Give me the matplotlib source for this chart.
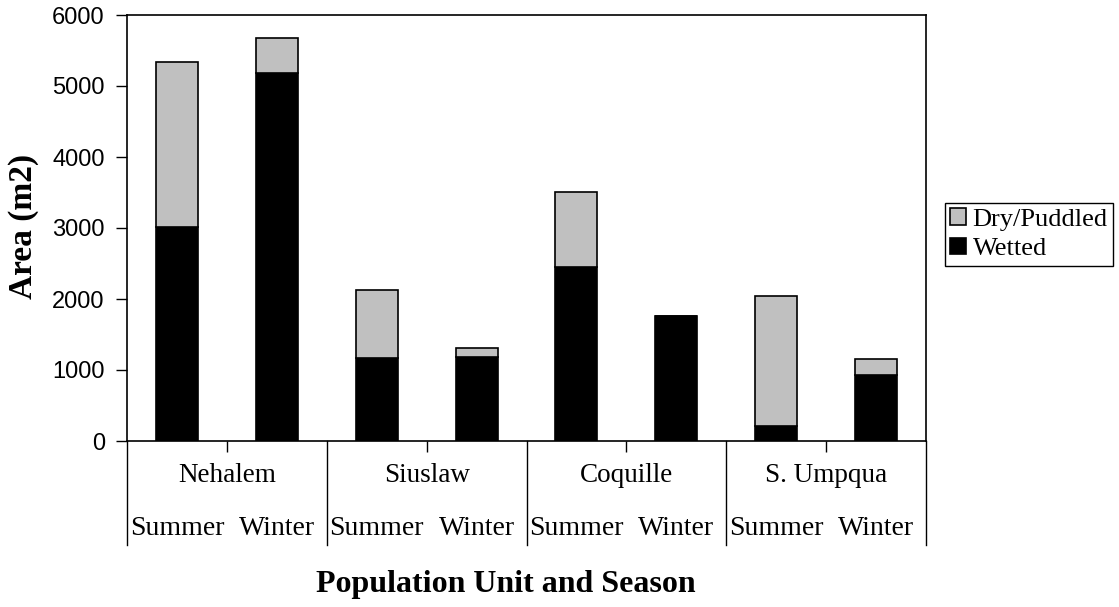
import numpy as np
import matplotlib
matplotlib.use('Agg')
import matplotlib.pyplot as plt
import matplotlib.transforms as mtransforms

# values (m2)
units = ['Nehalem', 'Siuslaw', 'Coquille', 'S. Umpqua']
seasons = ['Summer', 'Winter']
wetted = [3010, 5190, 1170, 1180, 2450, 1760, 210, 930]
total = [5340, 5680, 2120, 1310, 3510, 1760, 2040, 1155]
dry = [t - w for t, w in zip(total, wetted)]

serif = 'Liberation Serif'
sans = 'Liberation Sans'

fig = plt.figure(figsize=(11.19, 6.07), dpi=100)
ax = fig.add_axes([127 / 1119, 1 - 441 / 607, 799 / 1119, 426 / 607])

x = np.arange(len(wetted))
b1 = ax.bar(x, wetted, width=0.42, color='black', edgecolor='black', linewidth=1.2)
b2 = ax.bar(x, dry, width=0.42, bottom=wetted, color='#C0C0C0', edgecolor='black', linewidth=1.2)

ax.set_xlim(-0.5, len(x) - 0.5)
ax.set_ylim(0, 6000)
ax.set_yticks(range(0, 6001, 1000))
ax.tick_params(axis='y', direction='out', length=8, width=1, labelsize=17, pad=8)
for lab in ax.get_yticklabels():
    lab.set_fontfamily(sans)

# small ticks between summer / winter
ax.set_xticks(np.arange(0.5, len(x), 2))
ax.set_xticklabels([])
ax.tick_params(axis='x', direction='out', length=8, width=1)

for s in ax.spines.values():
    s.set_linewidth(1.2)

# category axis below the plot
trans = mtransforms.blended_transform_factory(ax.transData, ax.transAxes)
for xb in np.arange(-0.5, len(x), 2):
    ax.plot([xb, xb], [0, -0.245], color='black', lw=1, transform=trans, clip_on=False)

for i, u in enumerate(units):
    ax.text(2 * i + 0.5, -0.08, u, transform=trans, ha='center', va='center',
            fontsize=19.5, family=serif)
    for j, s in enumerate(seasons):
        ax.text(2 * i + j, -0.205, s, transform=trans, ha='center', va='center',
                fontsize=20, family=serif)

ax.text(0.474, -0.338, 'Population Unit and Season', transform=ax.transAxes,
        ha='center', va='center', fontsize=23, fontweight='bold', family=serif)
fig.text(24 / 1119, 1 - 226 / 607, 'Area (m2)', rotation=90, ha='center', va='center',
         fontsize=24, fontweight='bold', family=serif)

leg = fig.legend([b2, b1], ['Dry/Puddled', 'Wetted'], loc='upper left',
                 bbox_to_anchor=(945 / 1119, 1 - 203 / 607), borderaxespad=0,
                 fancybox=False, edgecolor='black', framealpha=1,
                 prop={'family': serif, 'size': 19}, handlelength=0.6,
                 handleheight=0.6, handletextpad=0.25, labelspacing=0.25,
                 borderpad=0.2)
leg.get_frame().set_linewidth(1)

fig.savefig('out.png', dpi=100)
